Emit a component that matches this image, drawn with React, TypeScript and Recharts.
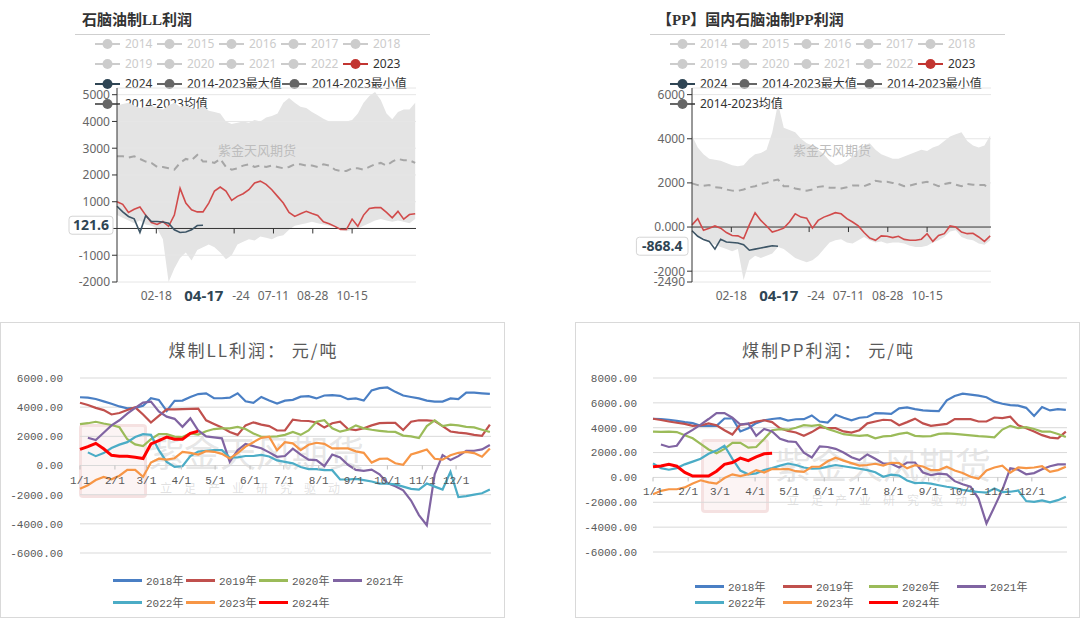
import React from 'react'
import {
  ComposedChart, LineChart, Line, Area, XAxis, YAxis, CartesianGrid, ReferenceLine
} from 'recharts'

// 周度采样的年内天数
const weekDays = Array.from({ length: 53 }, (_, i) => i * 7)

// 石脑油制LL利润
const llMax = [4600,4650,4700,4600,4500,4550,4600,4500,4450,4600,4700,4550,4600,4500,4450,4600,4400,4350,4300,4000,3900,3950,4000,3950,4050,4000,4150,4200,4300,4700,4880,4700,4550,4500,4350,4230,4100,4000,4000,3980,4000,4050,4300,4700,4950,5100,4800,4300,4080,4350,4450,4450,4700]
const llMin = [500,400,300,200,300,150,100,0,-400,-2000,-1500,-1100,-900,-1200,-800,-700,-600,-700,-900,-1150,-1000,-600,-500,-400,-450,-300,-350,-400,-300,-250,-50,100,150,200,250,200,150,100,50,-50,-100,-50,0,100,200,300,350,300,250,300,250,200,350]
const llAvg = [2700,2700,2650,2700,2600,2500,2450,2300,2300,2250,2200,2450,2600,2550,2750,2500,2500,2450,2600,2300,2200,2250,2350,2400,2300,2350,2300,2350,2300,2250,2300,2400,2400,2350,2350,2300,2400,2350,2200,2150,2150,2250,2250,2200,2300,2400,2450,2350,2500,2600,2550,2550,2450]
const ll2023 = [1000,900,600,720,800,500,220,150,260,80,500,1500,950,700,620,620,950,1400,1550,1400,1050,1200,1300,1450,1700,1770,1650,1450,1200,950,600,450,550,640,560,490,250,180,80,-40,-40,350,80,500,750,780,780,600,400,640,350,520,550]
const ll2024 = [830,620,450,360,-150,480,260,260,240,200,-50,-150,-130,-50,110,121.6]

// 国内石脑油制PP利润
const ppMax = [4150,3600,3300,3100,3050,3000,2900,2800,2750,2800,3100,3300,3350,3500,4300,5600,4500,4400,4300,4000,3800,3700,3500,3300,3000,2800,2850,3000,3200,3500,3700,3800,3500,3300,3200,3100,3100,3200,3300,3400,3500,3450,3600,3700,3900,4100,4200,4300,3900,3700,3600,3700,4150]
const ppMin = [-200,-400,-500,-700,-800,-900,-1000,-1100,-1000,-2400,-1500,-1300,-1400,-1300,-1200,-900,-1000,-1200,-1400,-1500,-1600,-1500,-1300,-1000,-700,-600,-550,-700,-750,-600,-450,-600,-700,-650,-750,-700,-700,-750,-850,-900,-900,-850,-700,-600,-450,-200,-150,-450,-550,-600,-750,-800,-600]
const ppAvg = [1980,1900,1870,1900,1800,1780,1700,1650,1640,1700,1800,1850,1950,2000,2100,2150,1850,1850,1750,1700,1650,1700,1820,1850,1780,1780,1750,1800,1880,1880,1850,1950,2100,2050,2050,2000,1950,1850,1880,1950,2000,2050,1950,1850,1950,2000,1920,1850,1950,1920,1900,1900,1750]
const pp2023 = [100,380,-150,-50,50,-50,-250,-380,-400,-530,100,650,300,50,-230,-150,-50,230,600,450,400,-50,300,450,550,650,600,380,230,50,-250,-500,-600,-400,-420,-480,-420,-560,-600,-600,-550,-300,-650,-380,-300,50,0,-230,-300,-280,-450,-650,-400]
const pp2024 = [-170,-420,-560,-650,-1000,-550,-680,-700,-720,-800,-1050,-1000,-950,-900,-850,-868.4]

// 横轴刻度（05-24 的左半被悬浮日期标签遮住，只露出 -24）
const topTickDays = [48, 143, 191, 239, 287]
const topTickLabels = ['02-18', '-24', '07-11', '08-28', '10-15']
const pointerDay = 106
const pointerLabel = '04-17'

const legendRowA = ['2014', '2015', '2016', '2017', '2018']
const legendRowB = ['2019', '2020', '2021', '2022', '2023']
const legendRowC = ['2024', '2014-2023最大值', '2014-2023最小值']
const legendRowD = ['2014-2023均值']

// 煤制利润（周度）
const yearNames = ['2018年', '2019年', '2020年', '2021年', '2022年', '2023年', '2024年']
const yearColors = ['#4a7fc4', '#c0504d', '#9bbb59', '#8064a2', '#4bacc6', '#f79646', '#ff0000']

const coalLL2018 = [4680,4650,4560,4400,4230,4050,3920,3950,4100,4610,4500,3750,4430,4450,4700,4900,4950,4610,4610,4650,4950,4400,4300,4700,4450,4250,4450,4500,4720,4750,4600,4800,4820,4780,4550,4600,4450,5150,5300,5350,5050,4800,4700,4600,4450,4380,4380,4600,4550,5000,5000,4950,4910]
const coalLL2019 = [4300,4150,3950,3800,3500,3600,3800,3990,3500,2950,3400,3850,3850,3860,3880,3900,3100,2850,2600,2300,2100,2750,2960,2800,2700,2400,2400,3150,3070,3050,2950,2600,2900,3000,2500,2430,2550,2750,2900,2920,2920,2430,3000,3100,3100,3050,2700,2330,2250,2200,2100,2030,2800]
const coalLL2020 = [2840,2900,3000,2880,2780,2620,1800,1450,1330,1800,2150,2150,1980,1950,2200,2120,2350,2500,2550,2550,2650,2500,2200,1970,1970,2000,2100,2300,2100,2400,3000,3100,2550,2320,2450,2750,2550,2450,2380,2320,2300,2050,2000,1880,2700,3100,2700,2800,2750,2650,2610,2450,2300]
const coalLL2021 = [null,1900,1750,2250,2750,3100,3550,3950,4310,4380,3700,3350,3200,2650,3230,2400,2000,1930,1860,250,1050,1480,1330,1180,900,600,650,1150,750,400,370,-50,750,550,50,-300,-370,-280,-600,-1200,-1430,-1700,-2400,-3400,-4100,-600,710,370,640,1000,1010,1100,1400]
const coalLL2022 = [null,900,640,850,1200,1430,1600,1950,2150,2100,1050,250,-90,-50,650,950,1000,1050,1050,550,560,650,650,730,620,350,250,150,-100,-250,-250,-320,-320,-960,-960,-920,-1000,-1100,-1240,-1240,-1300,-1450,-1600,-1650,-1240,-1450,-1650,-440,-2160,-2100,-2000,-1900,-1650]
const coalLL2023 = [-1600,-1350,-1000,-780,-950,-700,-300,-300,-780,200,470,400,500,940,870,750,980,940,800,480,850,1300,1600,1900,1970,1050,1600,1520,1050,1420,1560,1480,1170,1170,1170,970,870,200,450,480,150,50,750,920,1100,460,400,700,870,940,850,600,1170]
const coalLL2024 = [1100,1300,1520,1150,700,640,640,560,480,1480,1700,1950,1800,1800,2200,2360]

const coalPP2018 = [4720,4700,4640,4550,4450,4370,4150,4150,4150,4740,4740,3700,3960,4370,4600,4700,4770,4580,4680,4690,4990,4500,4420,5050,4800,4600,4800,4860,5180,5150,5120,5560,5640,5500,5390,5360,5330,6200,6550,6740,6660,6580,6450,6100,5930,5820,5780,5600,4950,5660,5390,5500,5440]
const coalPP2019 = [4720,4620,4500,4400,4310,4150,4180,4350,4200,3800,3450,4250,4310,4500,4600,4450,3950,3740,3620,3350,3650,4040,3960,3960,3700,3610,3800,4350,4500,4640,4600,4200,4450,4730,4350,4150,4230,4310,4690,4690,4690,4500,4500,4820,4780,4880,4200,3950,3700,3400,3200,3150,3690]
const coalPP2020 = [3690,3660,3680,3650,3400,3150,2700,2250,1940,2300,2780,2780,2400,2450,3100,3800,3880,3840,4000,4200,4150,4230,3900,3700,3480,3400,3350,3400,3150,3300,3350,3500,3600,3350,3300,3320,3500,3550,3500,3450,3380,3320,3280,3230,3850,4150,3960,4040,3900,3690,3690,3500,3250]
const coalPP2021 = [null,2650,2450,2550,3450,3830,4250,4700,5180,5180,4800,4250,4350,3340,3900,3700,3100,2900,2850,2000,1600,2500,2450,2300,2000,1620,1400,1850,1500,1130,1100,800,1200,1200,400,190,300,250,-300,-550,-750,-1700,-3700,-2370,-1000,730,620,250,350,650,900,1050,1050]
const coalPP2022 = [1130,750,620,750,1050,1270,1500,1900,2160,2550,1500,550,250,330,600,750,950,1120,1000,800,700,720,870,1000,900,800,700,590,420,50,220,150,-250,-450,-430,-500,-630,-750,-850,-1000,-1100,-1170,-1230,-890,-1180,-1150,-1050,-1900,-1970,-1850,-2000,-1830,-1560]
const coalPP2023 = [-1350,-1080,-950,-950,-800,-490,-230,-400,-500,-50,250,110,250,590,400,680,660,680,500,450,860,860,1300,1580,1350,1150,950,1000,1100,950,1180,1150,730,980,880,590,590,860,560,350,50,-100,560,800,950,380,800,750,800,900,450,590,860]
const coalPP2024 = [850,920,1050,900,400,110,110,110,500,1050,1200,1550,1350,1650,1900,1940]

const monthDays = [0, 31, 59, 90, 120, 151, 181, 212, 243, 273, 304, 334]
const monthLabels = ['1/1', '2/1', '3/1', '4/1', '5/1', '6/1', '7/1', '8/1', '9/1', '10/1', '11/1', '12/1']

const TOP_FONT = "'Noto Sans', 'Noto Sans CJK SC', sans-serif"
const MONO_FONT = "'Liberation Mono', 'DejaVu Sans Mono', 'Noto Sans CJK SC', monospace"

function TopXTick(props: any) {
  const { x, y, payload, zeroOff } = props
  const v = payload.value
  if (v === pointerDay) {
    return (
      <text x={x} y={y + 19} textAnchor="middle" fontSize={15} fontWeight="bold" fill="#2f4554">{pointerLabel}</text>
    )
  }
  const i = topTickDays.indexOf(v)
  const label = topTickLabels[i]
  const partial = label.startsWith('-')
  return (
    <g>
      <line x1={x} x2={x} y1={y - zeroOff} y2={y - zeroOff + 5} stroke="#333" />
      <text x={partial ? x - 2 : x} y={y + 18} textAnchor={partial ? 'start' : 'middle'} fontSize={12} fill="#666">{label}</text>
    </g>
  )
}

function TopYTick(props: any) {
  const { x, y, payload, pointer } = props
  const v = payload.value
  if (v === pointer) {
    const label = String(v)
    const w = label.length * 7.6 + 6
    return (
      <g>
        <rect x={x + 3 - w} y={y - 9} width={w} height={18} rx={3} fill="#fff" stroke="#d5d5d5" />
        <text x={x + 3 - w / 2} y={y} dy="0.36em" textAnchor="middle" fontSize={14} fontWeight="bold" fill="#2f4554">{label}</text>
      </g>
    )
  }
  return (
    <g>
      <line x1={x + 2} x2={x + 7} y1={y} y2={y} stroke="#333" />
      <text x={x} y={y} dy="0.36em" textAnchor="end" fontSize={12} fill="#666">{v === 0 ? '0.000' : v}</text>
    </g>
  )
}

function LegendIcon({ color }: { color: string }) {
  return (
    <svg width={25} height={14} style={{ position: 'absolute', left: -30, top: 1 }}>
      <line x1={0} x2={25} y1={7} y2={7} stroke={color} strokeWidth={2} />
      <circle cx={12.5} cy={7} r={5} fill={color} />
    </svg>
  )
}

function TopLegend() {
  const items: { t: string; x: number; y: number; icon: string; text: string }[] = []
  legendRowA.forEach((t, i) => items.push({ t, x: 125 + 62 * i, y: 44, icon: '#ccc', text: '#ccc' }))
  legendRowB.forEach((t, i) => {
    const on = t === '2023'
    items.push({ t, x: 125 + 62 * i, y: 64, icon: on ? '#c23531' : '#ccc', text: on ? '#333' : '#ccc' })
  })
  const cx = [125, 187, 312]
  legendRowC.forEach((t, i) => items.push({ t, x: cx[i], y: 84, icon: i === 0 ? '#2f4554' : '#666', text: '#333' }))
  legendRowD.forEach((t) => items.push({ t, x: 125, y: 104, icon: '#666', text: '#333' }))
  return (
    <>
      {items.map((it) => (
        <div key={it.t} style={{ position: 'absolute', left: it.x, top: it.y - 8, height: 16, lineHeight: '16px', fontSize: 12, color: it.text, whiteSpace: 'nowrap' }}>
          <LegendIcon color={it.icon} />
          {it.t}
        </div>
      ))}
    </>
  )
}

type TopProps = {
  left: number
  title: string
  maxV: number[]
  minV: number[]
  avgV: number[]
  v23: number[]
  v24: number[]
  domain: [number, number]
  yTicks: number[]
}

function TopChart({ left, title, maxV, minV, avgV, v23, v24, domain, yTicks }: TopProps) {
  const data = weekDays.map((d, i) => ({
    d,
    band: [minV[i], maxV[i]],
    avg: avgV[i],
    y23: v23[i],
    y24: i < v24.length ? v24[i] : null,
  }))
  const plotH = 194
  const zeroOff = (plotH * (0 - domain[0])) / (domain[1] - domain[0])
  const last = v24[v24.length - 1]
  return (
    <div style={{ position: 'absolute', left, top: 0, width: 440, height: 320, fontFamily: TOP_FONT }}>
      <div style={{ position: 'absolute', left: 82, top: 8, fontSize: 15, fontWeight: 'bold', color: '#333', whiteSpace: 'nowrap', fontFamily: "'Liberation Serif', 'Noto Sans CJK SC', serif" }}>
        {title}
      </div>
      <div style={{ position: 'absolute', left: 75, top: 34, width: 355, height: 1, background: '#cfcfcf' }} />
      <TopLegend />
      <div style={{ position: 'absolute', left: 0, top: 0 }}>
        <ComposedChart width={440} height={320} data={data} margin={{ top: 88, right: 24, bottom: 14, left: 67 }}>
          {yTicks.map((t) => (
            <ReferenceLine key={t} y={t} stroke="#e6e6e6" />
          ))}
          <ReferenceLine y={domain[1]} stroke="#e6e6e6" />
          <XAxis
            type="number"
            dataKey="d"
            domain={[0, 365]}
            ticks={[...topTickDays, pointerDay]}
            interval={0}
            axisLine={false}
            tickLine={false}
            tickSize={0}
            tickMargin={0}
            height={24}
            tick={<TopXTick zeroOff={zeroOff} />}
          />
          <YAxis
            type="number"
            domain={domain}
            ticks={[...yTicks, last]}
            interval={0}
            width={50}
            axisLine={{ stroke: '#333' }}
            tickLine={false}
            tickSize={5}
            tickMargin={2}
            tick={<TopYTick pointer={last} />}
          />
          <Area type="linear" dataKey="band" stroke="none" fill="#e4e4e4" fillOpacity={1} dot={false} activeDot={false} isAnimationActive={false} />
          <ReferenceLine y={0} stroke="#333" />
          <Line type="linear" dataKey="avg" stroke="#a6a6a6" strokeWidth={2} strokeDasharray="7 5" dot={false} activeDot={false} isAnimationActive={false} />
          <Line type="linear" dataKey="y23" stroke="#d14b4b" strokeWidth={1.6} dot={false} activeDot={false} isAnimationActive={false} />
          <Line type="linear" dataKey="y24" stroke="#3d5566" strokeWidth={1.6} dot={false} activeDot={false} isAnimationActive={false} />
        </ComposedChart>
      </div>
      <div style={{ position: 'absolute', left: 218, top: 140, fontSize: 13, color: '#bdbdbd', whiteSpace: 'nowrap' }}>紫金天风期货</div>
    </div>
  )
}

function CoalXTick(props: any) {
  const { x, y, payload, zeroOff } = props
  const i = monthDays.indexOf(payload.value)
  const y0 = y - zeroOff
  return (
    <g>
      <line x1={x} x2={x} y1={y0} y2={y0 + 4} stroke="#bfbfbf" />
      <text x={x} y={y0 + 18} textAnchor="middle" fontSize={11} fill="#595959">{monthLabels[i]}</text>
    </g>
  )
}

type CoalProps = {
  left: number
  title: string
  series: (number | null)[][]
  domain: [number, number]
  yTicks: number[]
  margin: { top: number; right: number; bottom: number; left: number }
  yGap: number
  legendRows: number[]
  legendCols: number[]
  seal: { x: number; y: number }
  mark: { x: number; y: number }
}

function CoalChart({ left, title, series, domain, yTicks, margin, yGap, legendRows, legendCols, seal, mark }: CoalProps) {
  const data = weekDays.map((d, i) => {
    const row: any = { d }
    series.forEach((s, j) => {
      row['s' + j] = i < s.length ? s[i] : null
    })
    return row
  })
  const plotH = 296 - margin.top - margin.bottom - 30
  const zeroOff = (plotH * (0 - domain[0])) / (domain[1] - domain[0])
  return (
    <div style={{ position: 'absolute', left, top: 322, width: 505, height: 296, border: '1px solid #d9d9d9', boxSizing: 'border-box', fontFamily: MONO_FONT }}>
      <div style={{ position: 'absolute', left: seal.x, top: seal.y, width: 68, height: 74, borderRadius: 4, border: '3px solid rgba(205,110,110,0.14)', background: 'rgba(225,150,150,0.1)', boxSizing: 'border-box' }} />
      <div style={{ position: 'absolute', left: mark.x - 110, top: mark.y - 24, width: 220, textAlign: 'center', fontSize: 36, color: 'rgba(170,170,170,0.3)', fontFamily: "'Noto Sans CJK SC', sans-serif", whiteSpace: 'nowrap' }}>紫金天风期货</div>
      <div style={{ position: 'absolute', left: mark.x - 100, top: mark.y + 30, width: 200, textAlign: 'center', fontSize: 12, letterSpacing: 12, color: 'rgba(170,170,170,0.35)', fontFamily: "'Noto Sans CJK SC', sans-serif", whiteSpace: 'nowrap' }}>立足产业研究驱动</div>
      <div style={{ position: 'absolute', left: 0, top: 14, width: 505, textAlign: 'center', fontSize: 17, letterSpacing: 2, color: '#595959', fontFamily: "'Noto Sans CJK SC', sans-serif", whiteSpace: 'nowrap' }}>{title}</div>
      <div style={{ position: 'absolute', left: -1, top: -1 }}>
        <LineChart width={505} height={296} data={data} margin={margin}>
          <CartesianGrid vertical={false} stroke="#d9d9d9" />
          <XAxis
            type="number"
            dataKey="d"
            domain={[0, 365]}
            ticks={monthDays}
            interval={0}
            axisLine={false}
            tickLine={false}
            tickSize={0}
            tickMargin={0}
            height={30}
            tick={<CoalXTick zeroOff={zeroOff} />}
          />
          <YAxis
            type="number"
            domain={domain}
            ticks={yTicks}
            interval={0}
            width={70}
            axisLine={false}
            tickLine={false}
            tickSize={0}
            tickMargin={yGap}
            tickFormatter={(v: number) => v.toFixed(2)}
            tick={{ fontSize: 11, fill: '#595959' }}
          />
          {series.map((_, j) => (
            <Line
              key={j}
              type="linear"
              dataKey={'s' + j}
              stroke={yearColors[j]}
              strokeWidth={j === 6 ? 3 : 2.2}
              dot={false}
              activeDot={false}
              isAnimationActive={false}
            />
          ))}
        </LineChart>
      </div>
      {yearNames.map((n, j) => (
        <div key={n} style={{ position: 'absolute', left: legendCols[j % 4], top: legendRows[j < 4 ? 0 : 1] - 8, height: 16, display: 'flex', alignItems: 'center', whiteSpace: 'nowrap' }}>
          <span style={{ display: 'inline-block', width: 29, height: 3, background: yearColors[j] }} />
          <span style={{ marginLeft: 4, fontSize: 11, color: '#595959' }}>{n}</span>
        </div>
      ))}
    </div>
  )
}

export default function App() {
  return (
    <div style={{ position: 'absolute', left: 0, top: 0, width: 1080, height: 621, background: '#fff', overflow: 'hidden' }}>
      <TopChart
        left={0}
        title="石脑油制LL利润"
        maxV={llMax}
        minV={llMin}
        avgV={llAvg}
        v23={ll2023}
        v24={ll2024}
        domain={[-2000, 5250]}
        yTicks={[-2000, -1000, 0, 1000, 2000, 3000, 4000, 5000]}
      />
      <TopChart
        left={575}
        title="【PP】国内石脑油制PP利润"
        maxV={ppMax}
        minV={ppMin}
        avgV={ppAvg}
        v23={pp2023}
        v24={pp2024}
        domain={[-2490, 6300]}
        yTicks={[-2490, -2000, 0, 2000, 4000, 6000]}
      />
      <CoalChart
        left={0}
        title="煤制LL利润： 元/吨"
        series={[coalLL2018, coalLL2019, coalLL2020, coalLL2021, coalLL2022, coalLL2023, coalLL2024]}
        domain={[-6000, 6000]}
        yTicks={[-6000, -4000, -2000, 0, 2000, 4000, 6000]}
        margin={{ top: 56, right: 14, bottom: 35, left: 10 }}
        yGap={17}
        legendRows={[257, 279]}
        legendCols={[112, 185, 258, 332]}
        seal={{ x: 78, y: 101 }}
        mark={{ x: 255, y: 126 }}
      />
      <CoalChart
        left={575}
        title="煤制PP利润： 元/吨"
        series={[coalPP2018, coalPP2019, coalPP2020, coalPP2021, coalPP2022, coalPP2023, coalPP2024]}
        domain={[-6000, 8000]}
        yTicks={[-6000, -4000, -2000, 0, 2000, 4000, 6000, 8000]}
        margin={{ top: 56, right: 13, bottom: 36, left: 8 }}
        yGap={16}
        legendRows={[263, 279]}
        legendCols={[119, 207, 293, 381]}
        seal={{ x: 125, y: 116 }}
        mark={{ x: 307, y: 138 }}
      />
    </div>
  )
}
